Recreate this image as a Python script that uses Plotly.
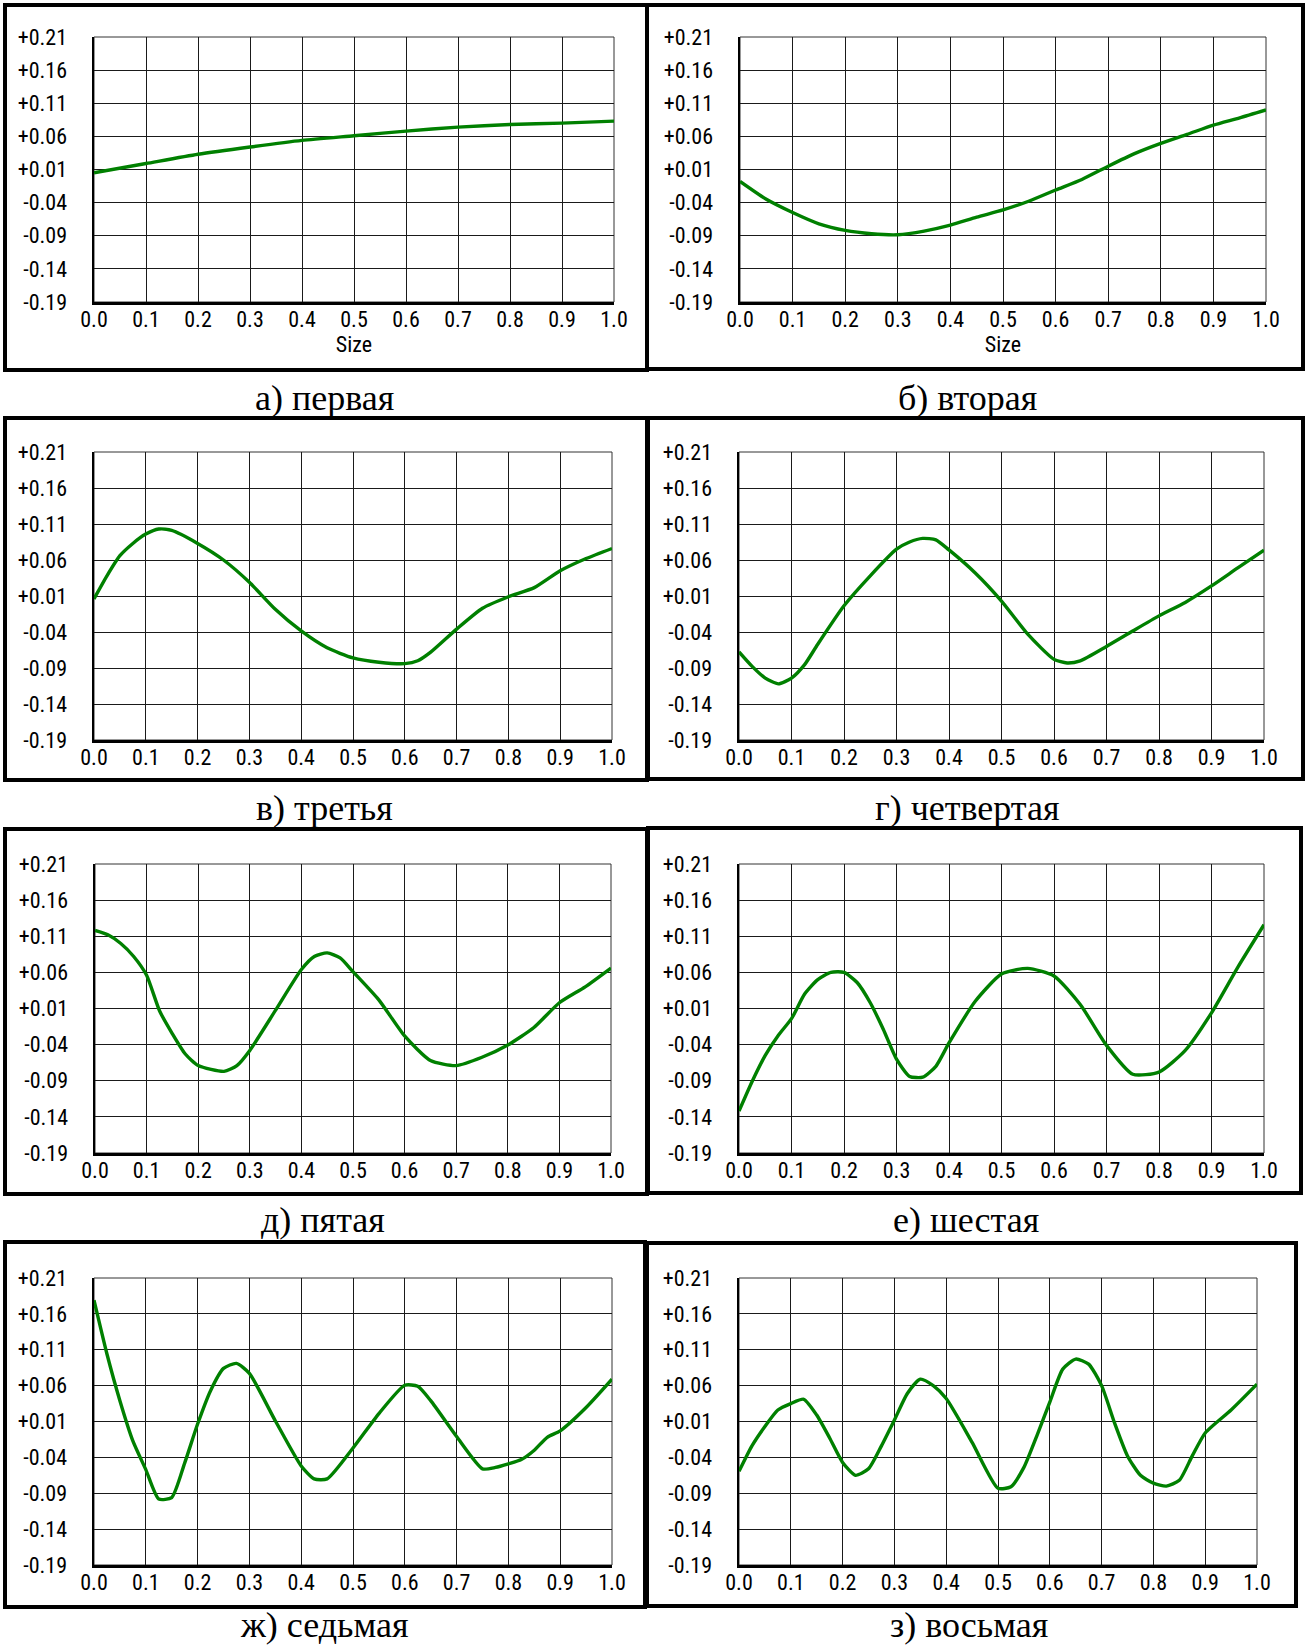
import plotly.graph_objects as go

W, H = 1315, 1649

# ---------------- data ----------------
x_a = [0.0, 0.1, 0.2, 0.3, 0.4, 0.5, 0.6, 0.7, 0.8, 0.9, 1.0]
y_a = [0.005, 0.019, 0.033, 0.044, 0.054, 0.061, 0.068, 0.074, 0.078, 0.080, 0.083]

x_b = [0.0, 0.05, 0.1, 0.15, 0.2, 0.25, 0.3, 0.35, 0.4, 0.45, 0.5, 0.55, 0.6, 0.65, 0.7, 0.75, 0.8, 0.85, 0.9, 0.95, 1.0]
y_b = [-0.008, -0.035, -0.055, -0.072, -0.082, -0.087, -0.0885, -0.083, -0.074, -0.062, -0.051, -0.0375, -0.021, -0.005, 0.015, 0.034, 0.0495, 0.063, 0.077, 0.088, 0.100]

x_c = [0.0, 0.025, 0.05, 0.075, 0.1, 0.125, 0.15, 0.2, 0.25, 0.3, 0.35, 0.4, 0.45, 0.5, 0.55, 0.6, 0.625, 0.65, 0.7, 0.75, 0.8, 0.85, 0.9, 0.95, 1.0]
y_c = [0.006, 0.038, 0.066, 0.083, 0.096, 0.103, 0.101, 0.083, 0.060, 0.029, -0.0085, -0.0386, -0.062, -0.076, -0.082, -0.084, -0.080, -0.068, -0.036, -0.007, 0.009, 0.0216, 0.045, 0.062, 0.076]

x_d = [0.0, 0.025, 0.05, 0.075, 0.1, 0.125, 0.15, 0.2, 0.25, 0.3, 0.325, 0.35, 0.375, 0.4, 0.45, 0.5, 0.55, 0.6, 0.625, 0.65, 0.7, 0.75, 0.8, 0.85, 0.9, 0.95, 1.0]
y_d = [-0.0676, -0.0877, -0.104, -0.112, -0.104, -0.0853, -0.057, -0.0036, 0.038, 0.075, 0.085, 0.090, 0.088, 0.074, 0.042, 0.003, -0.043, -0.078, -0.083, -0.080, -0.060, -0.0386, -0.0176, 0.0011, 0.024, 0.049, 0.0736]

x_e = [0.0, 0.025, 0.05, 0.075, 0.1, 0.125, 0.15, 0.175, 0.2, 0.25, 0.275, 0.3, 0.35, 0.4, 0.425, 0.45, 0.475, 0.5, 0.55, 0.6, 0.65, 0.7, 0.75, 0.8, 0.85, 0.9, 0.95, 1.0]
y_e = [0.118, 0.112, 0.100, 0.082, 0.056, 0.007, -0.025, -0.053, -0.069, -0.077, -0.069, -0.048, 0.0077, 0.064, 0.082, 0.087, 0.080, 0.061, 0.022, -0.028, -0.062, -0.069, -0.0575, -0.0405, -0.0166, 0.018, 0.040, 0.066]

x_f = [0.0, 0.025, 0.05, 0.075, 0.1, 0.125, 0.15, 0.175, 0.2, 0.225, 0.25, 0.275, 0.3, 0.325, 0.35, 0.375, 0.4, 0.45, 0.5, 0.55, 0.6, 0.65, 0.7, 0.75, 0.8, 0.85, 0.9, 0.95, 1.0]
y_f = [-0.132, -0.091, -0.055, -0.027, -0.004, 0.030, 0.050, 0.060, 0.060, 0.046, 0.018, -0.019, -0.060, -0.084, -0.085, -0.070, -0.0377, 0.020, 0.0577, 0.0655, 0.055, 0.0155, -0.041, -0.081, -0.078, -0.048, 0.004, 0.067, 0.126]

x_g = [0.0, 0.025, 0.05, 0.075, 0.1, 0.125, 0.15, 0.175, 0.2, 0.225, 0.25, 0.275, 0.3, 0.35, 0.4, 0.425, 0.45, 0.5, 0.55, 0.6, 0.625, 0.65, 0.7, 0.75, 0.775, 0.8, 0.825, 0.85, 0.875, 0.9, 0.95, 1.0]
y_g = [0.179, 0.104, 0.039, -0.017, -0.057, -0.098, -0.096, -0.048, 0.0065, 0.053, 0.084, 0.091, 0.077, 0.011, -0.052, -0.070, -0.070, -0.027, 0.021, 0.0605, 0.059, 0.039, -0.011, -0.056, -0.054, -0.049, -0.043, -0.030, -0.012, -0.003, 0.0295, 0.069]

x_h = [0.0, 0.025, 0.05, 0.075, 0.1, 0.125, 0.15, 0.175, 0.2, 0.225, 0.25, 0.275, 0.3, 0.325, 0.35, 0.375, 0.4, 0.45, 0.5, 0.525, 0.55, 0.575, 0.6, 0.625, 0.65, 0.675, 0.7, 0.725, 0.75, 0.775, 0.8, 0.825, 0.85, 0.875, 0.9, 0.95, 1.0]
y_h = [-0.0595, -0.024, 0.003, 0.026, 0.035, 0.041, 0.019, -0.013, -0.047, -0.065, -0.056, -0.024, 0.012, 0.049, 0.069, 0.060, 0.042, -0.019, -0.083, -0.081, -0.054, -0.010, 0.037, 0.083, 0.097, 0.090, 0.060, 0.008, -0.038, -0.065, -0.076, -0.080, -0.072, -0.038, -0.006, 0.026, 0.062]

series_x = [x_a, x_b, x_c, x_d, x_e, x_f, x_g, x_h]
series_y = [y_a, y_b, y_c, y_d, y_e, y_f, y_g, y_h]

captions = ["а) первая", "б) вторая", "в) третья", "г) четвертая",
            "д) пятая", "е) шестая", "ж) седьмая", "з) восьмая"]
show_size_title = [True, True, False, False, False, False, False, False]
x_title = "Size"

y_tick_vals = [-0.19, -0.14, -0.09, -0.04, 0.01, 0.06, 0.11, 0.16, 0.21]
y_tick_text = ["-0.19", "-0.14", "-0.09", "-0.04", "+0.01", "+0.06", "+0.11", "+0.16", "+0.21"]
x_tick_vals = [0.0, 0.1, 0.2, 0.3, 0.4, 0.5, 0.6, 0.7, 0.8, 0.9, 1.0]
x_tick_text = ["0.0", "0.1", "0.2", "0.3", "0.4", "0.5", "0.6", "0.7", "0.8", "0.9", "1.0"]

# ---------------- layout geometry (pixels) ----------------
plot_boxes = [
    (94, 37, 614, 302), (740, 37, 1266, 302),
    (94, 452, 612, 740), (739, 452, 1264, 740),
    (95, 864, 611, 1153), (739, 864, 1264, 1153),
    (94, 1278, 612, 1565), (739, 1278, 1257, 1565),
]
frame_boxes = [
    (5, 5, 647, 370), (647, 5, 1303, 369),
    (5, 418, 647, 780), (648, 418, 1303, 779),
    (5, 829, 647, 1194), (648, 828, 1301, 1193),
    (5, 1242, 645, 1607), (647, 1243, 1296, 1606),
]
caption_pos = [
    (324, 398), (967, 398),
    (324, 808), (967, 808),
    (323, 1220), (966, 1220),
    (324, 1625), (969, 1625),
]

TICK_FONT = dict(family="Liberation Sans Narrow, Noto Sans Condensed, Roboto Condensed, DejaVu Sans Condensed, sans-serif",
                 size=22, color="black")
CAP_FONT = dict(family="Liberation Serif, Times New Roman, serif", size=36, color="black")
GREEN = "rgb(0,128,0)"


def px_x(p):
    return p / W


def px_y(p):
    return 1 - p / H


fig = go.Figure()
shapes = []
annotations = []
layout = dict(
    width=W, height=H,
    margin=dict(l=0, r=0, t=0, b=0, pad=0, autoexpand=False),
    paper_bgcolor="white", plot_bgcolor="white",
    showlegend=False,
    template="none",
)

for i in range(8):
    n = "" if i == 0 else str(i + 1)
    L, T, R, B = plot_boxes[i]
    fig.add_trace(go.Scatter(
        x=series_x[i], y=series_y[i], mode="lines",
        line=dict(color=GREEN, width=3.4, shape="spline", smoothing=0.6),
        xaxis="x" + n, yaxis="y" + n, hoverinfo="skip",
    ))
    xa = dict(
        domain=[px_x(L), px_x(R)], anchor="y" + n, automargin=False,
        range=[0, 1], tickmode="array", tickvals=x_tick_vals, ticktext=x_tick_text,
        showgrid=True, gridcolor="#1a1a1a", gridwidth=1,
        showline=True, linecolor="black", linewidth=2.5,
        zeroline=False, ticks="", tickfont=TICK_FONT, ticklabelstandoff=-4,
        fixedrange=True,
    )
    if show_size_title[i]:
        xa["title"] = dict(text=x_title, font=TICK_FONT, standoff=6)
    ya = dict(
        domain=[px_y(B), px_y(T)], anchor="x" + n, automargin=False,
        range=[-0.19, 0.21], tickmode="array", tickvals=y_tick_vals, ticktext=y_tick_text,
        showgrid=True, gridcolor="#1a1a1a", gridwidth=1,
        showline=True, linecolor="black", linewidth=2.5,
        zeroline=False, ticks="", tickfont=TICK_FONT, ticklabelstandoff=20,
        fixedrange=True,
    )
    layout["xaxis" + n] = xa
    layout["yaxis" + n] = ya

    shapes.append(dict(type="rect", xref="x" + n + " domain", yref="y" + n + " domain",
                       x0=0, x1=1, y0=0, y1=1, line=dict(color="#333333", width=1),
                       layer="below"))
    fl, ft, fr, fb = frame_boxes[i]
    shapes.append(dict(type="rect", xref="paper", yref="paper",
                       x0=px_x(fl), x1=px_x(fr), y0=px_y(fb), y1=px_y(ft),
                       line=dict(color="black", width=4)))
    cx, cy = caption_pos[i]
    annotations.append(dict(text=captions[i], xref="paper", yref="paper",
                            x=px_x(cx), y=px_y(cy), xanchor="center", yanchor="middle",
                            showarrow=False, font=CAP_FONT))

layout["shapes"] = shapes
layout["annotations"] = annotations
fig.update_layout(**layout)

# remove the browser's default page margin so the figure sits at (0, 0)
fig.write_html("out.html",
               config={"displayModeBar": False, "staticPlot": True},
               post_script="document.body.style.margin='0';document.body.style.padding='0';")
